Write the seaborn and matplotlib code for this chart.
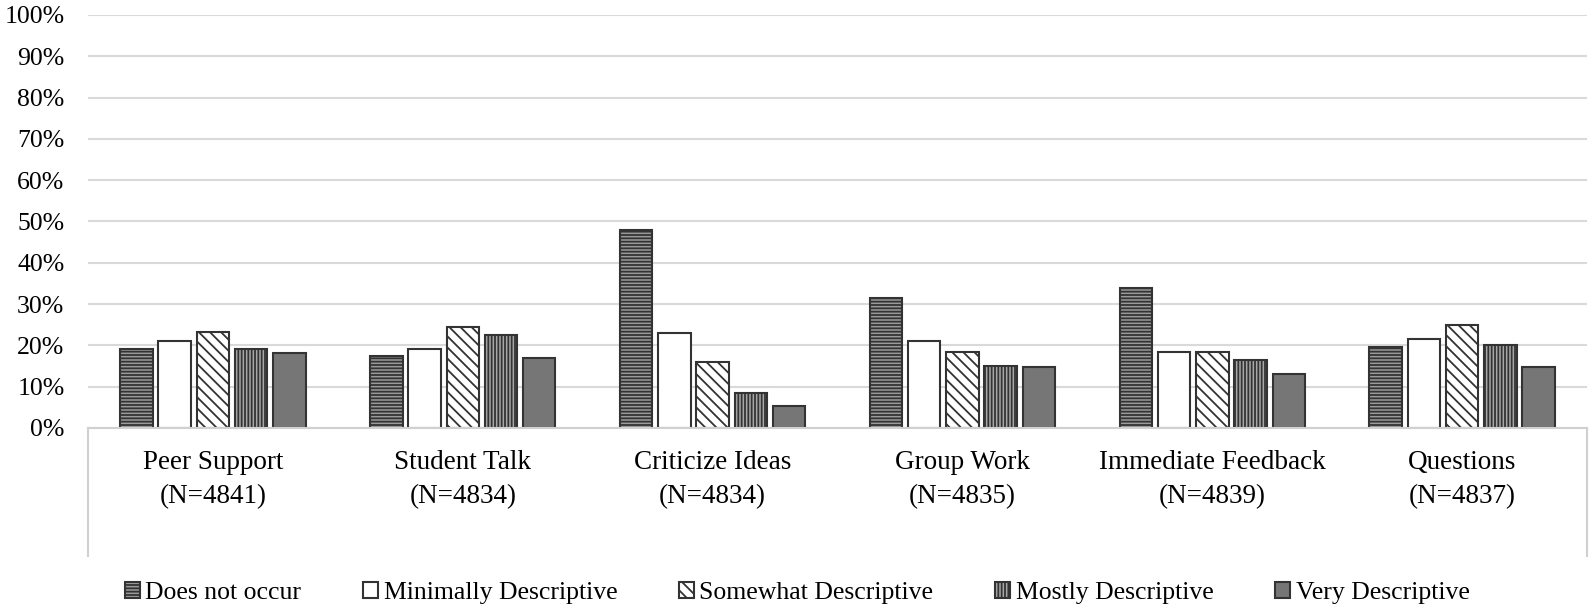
import pandas as pd
import numpy as np
import seaborn as sns
from matplotlib import pyplot as plt
from matplotlib.ticker import PercentFormatter

categories = ['Peer Support\n(N=4841)', 'Student Talk\n(N=4834)', 'Criticize Ideas\n(N=4834)',
              'Group Work\n(N=4835)', 'Immediate Feedback\n(N=4839)', 'Questions\n(N=4837)']
levels = ['Does not occur', 'Minimally Descriptive', 'Somewhat Descriptive',
          'Mostly Descriptive', 'Very Descriptive']

does_not_occur = [19, 17.5, 48, 31.5, 34, 19.5]
minimally = [21, 19, 23, 21, 18.5, 21.5]
somewhat = [23.3, 24.5, 16, 18.5, 18.5, 25]
mostly = [19, 22.5, 8.5, 15, 16.5, 20]
very = [18.2, 17, 5.2, 14.7, 13, 14.7]

series = [does_not_occur, minimally, somewhat, mostly, very]
rows = []
for lev, vals in zip(levels, series):
    for cat, v in zip(categories, vals):
        rows.append({'Categoria': cat, 'Nivel': lev, 'Valor': v})
df = pd.DataFrame(rows)

fills = ['#9a9a9a', '#ffffff', '#ffffff', '#a8a8a8', '#767676']
hatches = ['-----', '', '\\\\\\', '|||||', '']

plt.rcParams['font.family'] = ['Liberation Serif', 'DejaVu Serif']
plt.rcParams['font.size'] = 19
plt.rcParams['hatch.linewidth'] = 1.3

fig = plt.figure(figsize=(15.92, 6.14), dpi=100)
ax = fig.add_axes([0.0553, 0.303, 0.9416, 0.6727])

sns.barplot(data=df, x='Categoria', y='Valor', hue='Nivel', hue_order=levels,
            palette=fills, width=0.765, edgecolor='#333333', linewidth=1.5,
            saturation=1, ax=ax)

# estreitar barras e aplicar hachuras
for cont, h in zip(ax.containers, hatches):
    for bar in cont:
        w = bar.get_width()
        bar.set_x(bar.get_x() + w * 0.075)
        bar.set_width(w * 0.85)
        bar.set_hatch(h)

ax.set_ylim(0, 100)
ax.set_yticks(np.arange(0, 101, 10))
ax.yaxis.set_major_formatter(PercentFormatter(decimals=0))
ax.set_xlim(-0.5, 5.5)
ax.grid(axis='y', color='#d9d9d9', linewidth=1.5)
ax.set_axisbelow(True)
for s in ['top', 'right', 'left']:
    ax.spines[s].set_visible(False)
ax.spines['bottom'].set_color('#d0d0d0')
ax.spines['bottom'].set_linewidth(1.5)
ax.tick_params(axis='both', length=0)
ax.tick_params(axis='y', pad=17, labelsize=18.5)
ax.tick_params(axis='x', pad=16, labelsize=19.5)
for lbl in ax.get_xticklabels():
    lbl.set_linespacing(1.45)
ax.set_xlabel('')
ax.set_ylabel('')

# caixa do eixo de categorias
ax.plot([0, 0], [0, -0.31], transform=ax.transAxes, color='#d0d0d0', lw=1.5, clip_on=False)
ax.plot([1, 1], [0, -0.31], transform=ax.transAxes, color='#d0d0d0', lw=1.5, clip_on=False)

ax.legend(handles=list(ax.containers), labels=levels, loc='center', bbox_to_anchor=(0.473, -0.4),
          ncol=5, frameon=False, handlelength=0.6, handleheight=0.6, handletextpad=0.2,
          columnspacing=2.4, fontsize=18.5)

plt.savefig('out.png', dpi=100)
